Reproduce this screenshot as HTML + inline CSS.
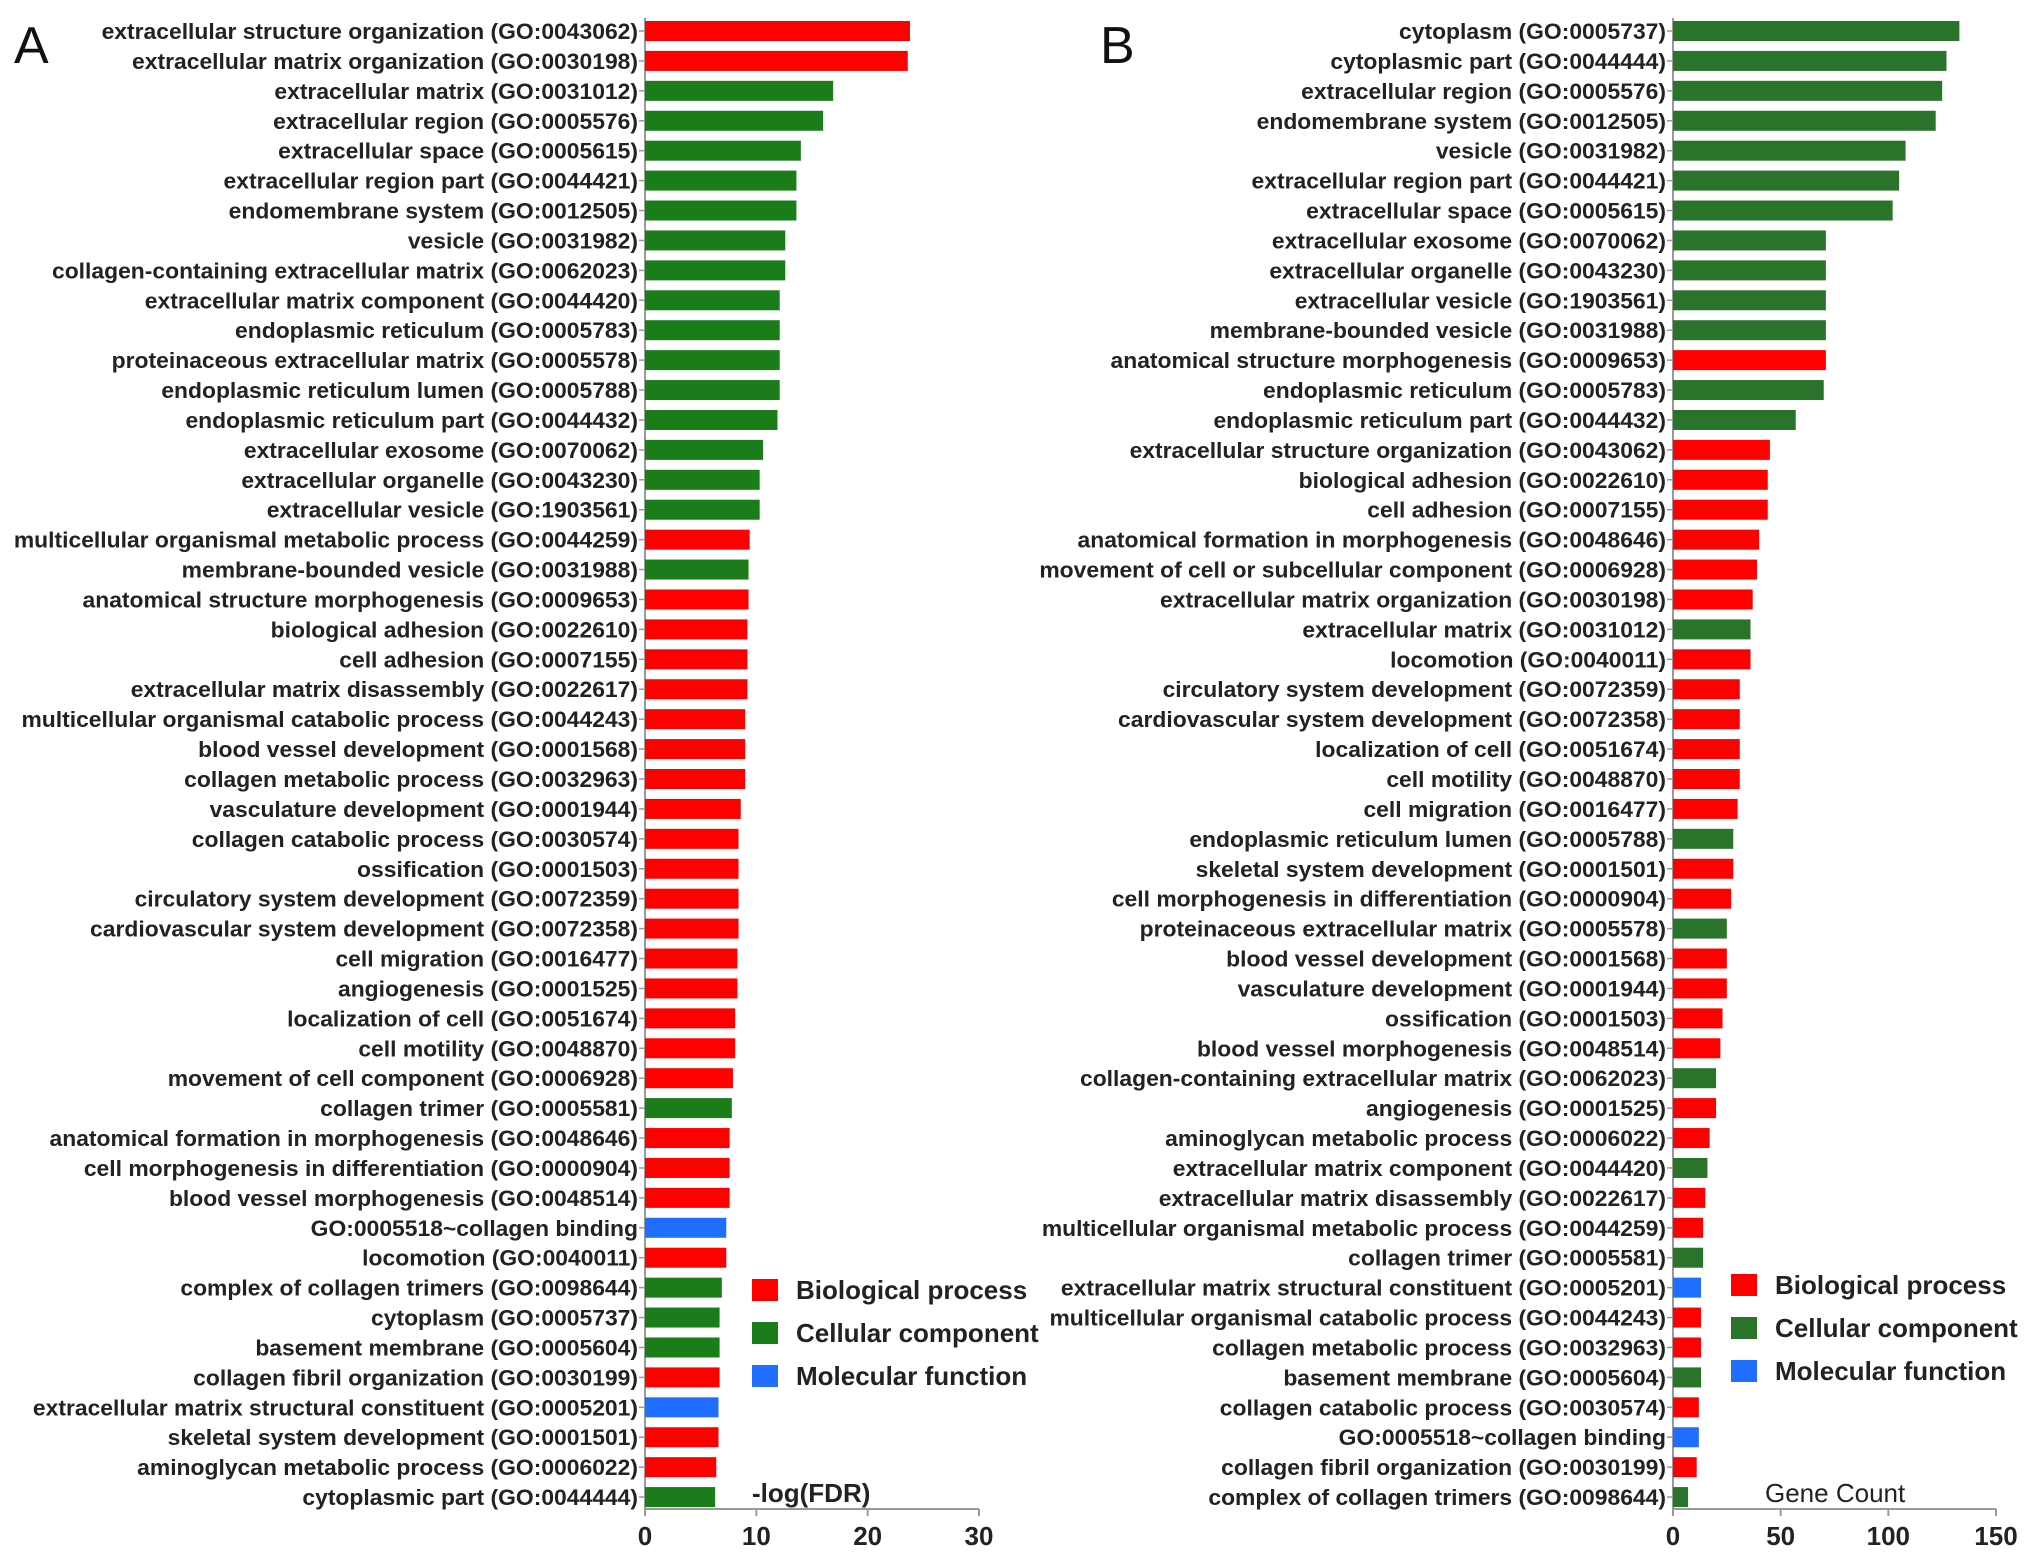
<!DOCTYPE html>
<html><head><meta charset="utf-8"><style>
html,body{margin:0;padding:0;background:#fff;}
svg{display:block;font-family:"Liberation Sans",Arial,sans-serif;}
</style></head><body>
<svg id="chart" width="2031" height="1558" viewBox="0 0 2031 1558" xmlns="http://www.w3.org/2000/svg">
<g id="pa"></g>
<g id="pb"></g>
</svg>
<script>
const labelsA=["extracellular structure organization (GO:0043062)","extracellular matrix organization (GO:0030198)","extracellular matrix (GO:0031012)","extracellular region (GO:0005576)","extracellular space (GO:0005615)","extracellular region part (GO:0044421)","endomembrane system (GO:0012505)","vesicle (GO:0031982)","collagen-containing extracellular matrix (GO:0062023)","extracellular matrix component (GO:0044420)","endoplasmic reticulum (GO:0005783)","proteinaceous extracellular matrix (GO:0005578)","endoplasmic reticulum lumen (GO:0005788)","endoplasmic reticulum part (GO:0044432)","extracellular exosome (GO:0070062)","extracellular organelle (GO:0043230)","extracellular vesicle (GO:1903561)","multicellular organismal metabolic process (GO:0044259)","membrane-bounded vesicle (GO:0031988)","anatomical structure  morphogenesis (GO:0009653)","biological adhesion (GO:0022610)","cell adhesion (GO:0007155)","extracellular matrix disassembly (GO:0022617)","multicellular organismal catabolic process (GO:0044243)","blood vessel development (GO:0001568)","collagen metabolic process (GO:0032963)","vasculature development (GO:0001944)","collagen catabolic process (GO:0030574)","ossification (GO:0001503)","circulatory system development (GO:0072359)","cardiovascular system development (GO:0072358)","cell migration (GO:0016477)","angiogenesis (GO:0001525)","localization of cell (GO:0051674)","cell motility (GO:0048870)","movement of cell component (GO:0006928)","collagen trimer (GO:0005581)","anatomical formation in morphogenesis (GO:0048646)","cell morphogenesis in differentiation (GO:0000904)","blood vessel morphogenesis (GO:0048514)","GO:0005518~collagen binding","locomotion (GO:0040011)","complex of collagen trimers (GO:0098644)","cytoplasm (GO:0005737)","basement membrane (GO:0005604)","collagen fibril organization (GO:0030199)","extracellular matrix structural constituent (GO:0005201)","skeletal system development (GO:0001501)","aminoglycan metabolic process (GO:0006022)","cytoplasmic part (GO:0044444)"];
const valuesA=[23.8,23.6,16.9,16.0,14.0,13.6,13.6,12.6,12.6,12.1,12.1,12.1,12.1,11.9,10.6,10.3,10.3,9.4,9.3,9.3,9.2,9.2,9.2,9.0,9.0,9.0,8.6,8.4,8.4,8.4,8.4,8.3,8.3,8.1,8.1,7.9,7.8,7.6,7.6,7.6,7.3,7.3,6.9,6.7,6.7,6.7,6.6,6.6,6.4,6.3];
const catA="BBCCCCCCCCCCCCCCCBCBBBBBBBBBBBBBBBBBCBBBMBCCCBMBBC";
const ticksA=[0,10,20,30];
const labelsB=["cytoplasm (GO:0005737)","cytoplasmic part (GO:0044444)","extracellular region (GO:0005576)","endomembrane system (GO:0012505)","vesicle (GO:0031982)","extracellular region part (GO:0044421)","extracellular space (GO:0005615)","extracellular exosome (GO:0070062)","extracellular organelle (GO:0043230)","extracellular vesicle (GO:1903561)","membrane-bounded vesicle (GO:0031988)","anatomical structure morphogenesis (GO:0009653)","endoplasmic reticulum (GO:0005783)","endoplasmic reticulum part (GO:0044432)","extracellular structure organization (GO:0043062)","biological adhesion (GO:0022610)","cell adhesion (GO:0007155)","anatomical formation in morphogenesis (GO:0048646)","movement of cell or subcellular component (GO:0006928)","extracellular matrix organization (GO:0030198)","extracellular matrix (GO:0031012)","locomotion (GO:0040011)","circulatory system development (GO:0072359)","cardiovascular system development (GO:0072358)","localization of cell (GO:0051674)","cell motility (GO:0048870)","cell migration (GO:0016477)","endoplasmic reticulum lumen (GO:0005788)","skeletal system development (GO:0001501)","cell morphogenesis in differentiation (GO:0000904)","proteinaceous extracellular matrix (GO:0005578)","blood vessel development (GO:0001568)","vasculature development (GO:0001944)","ossification (GO:0001503)","blood vessel morphogenesis (GO:0048514)","collagen-containing extracellular matrix (GO:0062023)","angiogenesis (GO:0001525)","aminoglycan metabolic process (GO:0006022)","extracellular matrix component (GO:0044420)","extracellular matrix disassembly (GO:0022617)","multicellular organismal metabolic process (GO:0044259)","collagen trimer (GO:0005581)","extracellular matrix structural constituent (GO:0005201)","multicellular organismal catabolic process (GO:0044243)","collagen metabolic process (GO:0032963)","basement membrane (GO:0005604)","collagen catabolic process (GO:0030574)","GO:0005518~collagen binding","collagen fibril organization (GO:0030199)","complex of collagen trimers (GO:0098644)"];
const valuesB=[133,127,125,122,108,105,102,71,71,71,71,71,70,57,45,44,44,40,39,37,36,36,31,31,31,31,30,28,28,27,25,25,25,23,22,20,20,17,16,15,14,14,13,13,13,13,12,12,11,7];
const catB="CCCCCCCCCCCBCCBBBBBBCBBBBBBCBBCBBBBCBBCBBCMBBCBMBC";
const ticksB=[0,50,100,150];
const legendNames=["Biological process","Cellular component","Molecular function"];

const NS="http://www.w3.org/2000/svg";
function el(parent,tag,attrs,text){const e=document.createElementNS(NS,tag);for(const k in attrs)e.setAttribute(k,attrs[k]);if(text!==undefined)e.textContent=text;parent.appendChild(e);return e;}
const rowY=i=>31+i*29.92;

function panel(g,o){
  const colors=o.colors;
  const x=v=>o.x0+(v-o.min)/(o.max-o.min)*(o.x1-o.x0);
  const ax=el(g,'line',{x1:o.x0,y1:18,x2:o.x0,y2:1509,stroke:'#999','stroke-width':2});
  
  
  const bx=el(g,'line',{x1:o.x0,y1:1509,x2:o.x1,y2:1509,stroke:'#999','stroke-width':2});
  
  
  o.ticks.forEach(t=>{
    const tl=el(g,'line',{x1:x(t),y1:1509,x2:x(t),y2:1516,stroke:'#999','stroke-width':2});
    
    
    const tt=el(g,'text',{x:x(t),y:1545,'text-anchor':'middle','font-size':26,'font-weight':'bold',fill:'#222'},String(t));
    
    
  });
  o.labels.forEach((lab,i)=>{
    const y=rowY(i);
    const tk=el(g,'line',{x1:o.x0-6,y1:y,x2:o.x0,y2:y,stroke:'#999','stroke-width':1.5});
    
    
    const t=el(g,'text',{transform:`translate(${o.x0-7},${y+8}) scale(1.04,1)`,'text-anchor':'end','font-size':22,'font-weight':'bold',fill:'#222'},lab);
    
    
    const b=el(g,'rect',{x:x(0),y:y-10,width:x(o.values[i])-x(0),height:20,fill:colors[o.cats[i]]});
    
    
  });
  const L=el(g,'text',{x:o.letterX,y:63,'font-size':52,fill:'#111'},o.letter);
  
  
  ['B','C','M'].forEach((c,i)=>{
    const ly=o.legY+i*43;
    const s=el(g,'rect',{x:o.legX,y:ly-11,width:26,height:22,fill:colors[c]});
    
    
    const t=el(g,'text',{x:o.legX+44,y:ly+9,'font-size':26,'font-weight':'bold',fill:'#222'},legendNames[i]);
    
    
  });
  const at=el(g,'text',{x:o.titleX,y:1502,'font-size':26,'font-weight':o.titleBold?'bold':'normal',fill:'#222'},o.title);
  
  
}
panel(document.getElementById('pa'),{x0:645,x1:979,min:0,max:30,ticks:ticksA,labels:labelsA,values:valuesA,cats:catA,
  colors:{B:'#ff0000',C:'#1a7d1a',M:'#1f6eff'},letter:'A',letterX:14,legX:752,legY:1290,title:'-log(FDR)',titleX:752,titleBold:true});
panel(document.getElementById('pb'),{x0:1673,x1:1996,min:0,max:150,ticks:ticksB,labels:labelsB,values:valuesB,cats:catB,
  colors:{B:'#ff0000',C:'#2a732a',M:'#1f6eff'},letter:'B',letterX:1100,legX:1731,legY:1285,title:'Gene Count',titleX:1765,titleBold:false});
</script>
</body></html>
